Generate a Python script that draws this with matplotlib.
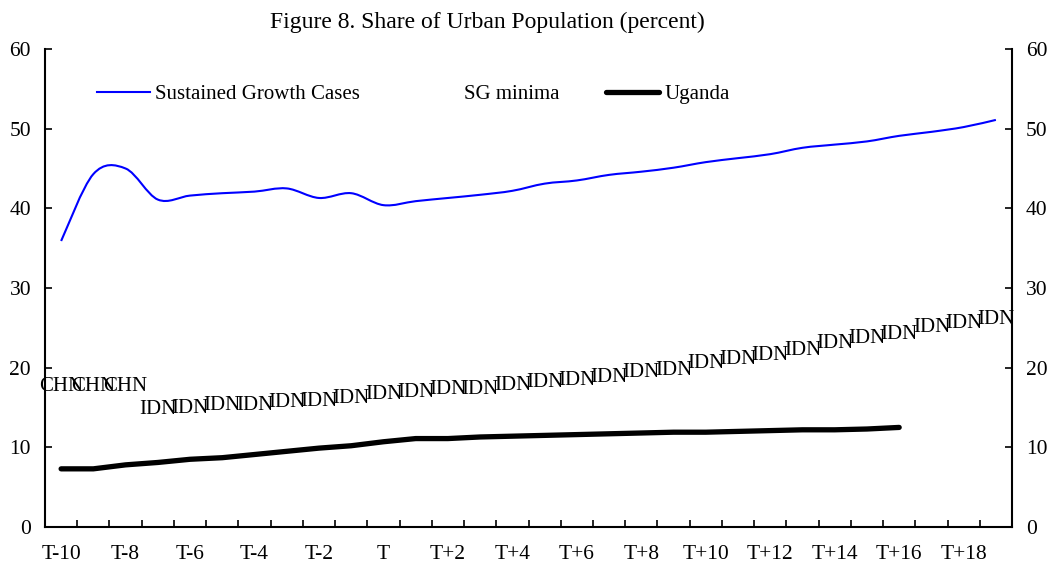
import matplotlib
matplotlib.use("Agg")
import matplotlib.pyplot as plt
from matplotlib.lines import Line2D
from matplotlib.path import Path
from matplotlib.patches import PathPatch
import numpy as np

plt.rcParams['font.family'] = ['Liberation Serif', 'DejaVu Serif']

periods = ["T-10", "T-9", "T-8", "T-7", "T-6", "T-5", "T-4", "T-3", "T-2", "T-1",
           "T", "T+1", "T+2", "T+3", "T+4", "T+5", "T+6", "T+7", "T+8", "T+9",
           "T+10", "T+11", "T+12", "T+13", "T+14", "T+15", "T+16", "T+17", "T+18", "T+19"]

sustained_growth = [35.9, 44.3, 45.0, 41.1, 41.6, 41.9, 42.1, 42.5, 41.3, 41.9,
                    40.4, 40.9, 41.3, 41.7, 42.2, 43.1, 43.5, 44.2, 44.6, 45.1,
                    45.8, 46.3, 46.8, 47.6, 48.0, 48.4, 49.1, 49.6, 50.2, 51.1]

sg_minima = [17.6, 17.6, 17.6, 14.7, 14.9, 15.2, 15.3, 15.6, 15.8, 16.1,
             16.6, 16.9, 17.2, 17.3, 17.7, 18.1, 18.4, 18.8, 19.4, 19.7,
             20.5, 21.0, 21.5, 22.2, 23.0, 23.7, 24.2, 25.0, 25.5, 26.0]
sg_labels = ["CHN"] * 3 + ["IDN"] * 27

uganda = [7.3, 7.3, 7.8, 8.1, 8.5, 8.7, 9.1, 9.5, 9.9, 10.2,
          10.7, 11.1, 11.1, 11.3, 11.4, 11.5, 11.6, 11.7, 11.8, 11.9,
          11.9, 12.0, 12.1, 12.2, 12.2, 12.3, 12.5]

x = np.arange(len(periods))
blue = "#0000ff"


def smooth_path(xs, ys):
    # spreadsheet-style smoothed line: cubic bezier through every point
    pts = np.column_stack([xs, ys]).astype(float)
    verts = [pts[0]]
    codes = [Path.MOVETO]
    n = len(pts)
    for i in range(n - 1):
        p0 = pts[max(i - 1, 0)]
        p1 = pts[i]
        p2 = pts[i + 1]
        p3 = pts[min(i + 2, n - 1)]
        verts += [p1 + (p2 - p0) / 6, p2 - (p3 - p1) / 6, p2]
        codes += [Path.CURVE4] * 3
    return Path(verts, codes)


fig = plt.figure(figsize=(10.55, 5.67), dpi=100)
ax = fig.add_axes([45 / 1055, 1 - 527 / 567, (1012 - 45) / 1055, (527 - 49) / 567])

ax.add_patch(PathPatch(smooth_path(x, sustained_growth), facecolor="none",
                       edgecolor=blue, lw=1.5))
for xi, yi, lab in zip(x, sg_minima, sg_labels):
    ax.text(xi, yi, lab, ha="center", va="center", fontsize=15)
ax.plot(x[:len(uganda)], uganda, color="black", lw=3.8, solid_capstyle="round")

ax.set_xlim(-0.5, len(periods) - 0.5)
ax.set_ylim(0, 60)
ax.set_yticks(range(0, 61, 10))
ax.tick_params(axis="y", direction="in", length=5, width=1.2, labelsize=15.5,
               right=True, labelright=True, pad=10)

ax.set_xticks(np.arange(0.5, len(periods) - 1, 1))
ax.set_xticklabels([])
ax.set_xticks(x[::2], minor=True)
ax.set_xticklabels(periods[::2], minor=True)
ax.tick_params(axis="x", which="major", direction="in", length=5, width=1.2)
ax.tick_params(axis="x", which="minor", length=0, labelsize=15.5, pad=13)

ax.spines["top"].set_visible(False)
for s in ["left", "right", "bottom"]:
    ax.spines[s].set_linewidth(1.5)

handles = [Line2D([], [], color=blue, lw=1.5),
           Line2D([], [], color="none"),
           Line2D([], [], color="black", lw=3.8, solid_capstyle="round")]
ax.legend(handles, ["Sustained Growth Cases", "SG minima", "Uganda"], ncol=3,
          frameon=False, fontsize=15, loc="center left",
          bbox_to_anchor=(97 / 1055, 1 - 94 / 567), bbox_transform=fig.transFigure,
          borderpad=0, borderaxespad=0,
          handlelength=2.55, handletextpad=0.25, columnspacing=2.2)

fig.text(487 / 1055, 1 - 22 / 567, "Figure 8. Share of Urban Population (percent)",
         ha="center", va="center", fontsize=17)

fig.savefig("out.png", dpi=100)
